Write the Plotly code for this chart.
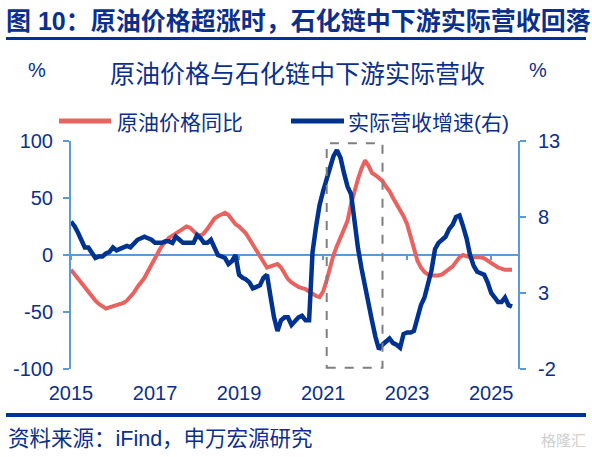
import pandas as pd
import plotly.graph_objects as go

# monthly, Jan 2015 - Jul 2025
months = pd.date_range("2015-01-01", periods=127, freq="MS")

# 原油价格同比 (%), left axis
oil_yoy = [
    -13, -17, -21, -25, -29, -33, -37, -40, -43, -45, -47, -46,
    -45, -44, -43, -42, -40, -37, -33, -28, -24, -20, -14, -8,
    -2, 3, 8, 12, 15, 17, 19, 21, 23, 25, 24, 21,
    18, 17, 19, 23, 28, 32, 34, 36, 37, 35, 31, 27,
    25, 22, 19, 14, 9, 4, 0, -6, -11, -10, -9, -8,
    -11, -16, -21, -24, -26, -28, -29, -30, -32, -34, -36, -37,
    -32, -22, -10, 0, 8, 15, 22, 30, 45, 57, 67, 76,
    83, 78, 72, 70, 68, 65, 60, 56, 50, 45, 40, 34,
    27, 17, 6, -5, -11, -15, -17, -18, -18, -18, -17, -15,
    -12, -10, -6, -2, 0, -1, -2, -2, -2, -2, -3, -5,
    -7, -9, -11, -12, -13, -13, -13,
]

# 实际营收增速 (%), right axis
rev_growth = [
    7.7, 7.4, 7.0, 6.5, 6.0, 6.0, 5.6, 5.3, 5.4, 5.4, 5.6, 5.7,
    6.0, 5.8, 5.9, 6.0, 6.1, 6.0, 6.2, 6.5, 6.6, 6.7, 6.6, 6.5,
    6.3, 6.3, 6.3, 6.4, 6.4, 6.3, 6.7, 6.5, 6.3, 6.3, 6.3, 6.3,
    6.8, 6.6, 6.3, 6.3, 6.5, 6.0, 5.5, 5.4, 5.3, 4.9, 5.1, 5.5,
    4.2, 4.0, 3.9, 3.7, 3.3, 3.4, 3.5, 4.0, 4.2, 2.8, 1.4, 0.5,
    1.2, 1.4, 1.4, 0.9, 1.2, 1.4, 1.5, 1.2, 1.2, 5.7, 7.4, 8.8,
    9.7, 10.5, 11.4, 12.0, 12.4, 11.9, 10.9, 10.0, 9.5, 7.4, 5.9, 4.6,
    3.3, 2.1, 1.2, 0.1, -0.7, -0.4, -0.2, 0.0, -0.3, -0.4, -0.6, 0.3,
    0.4, 0.4, 0.5, 1.4, 2.2, 2.7, 3.5, 4.5, 5.9, 6.3, 6.5, 6.7,
    7.2, 7.5, 8.0, 8.1, 7.4, 6.6, 5.5, 4.8, 4.4, 4.3, 4.2, 3.7,
    3.0, 2.7, 2.4, 2.4, 2.7, 2.2, 2.1,
]

year_ticks = ["2015-01-01", "2017-01-01", "2019-01-01", "2021-01-01", "2023-01-01", "2025-01-01"]
year_labels = ["2015", "2017", "2019", "2021", "2023", "2025"]
left_ticks = [-100, -50, 0, 50, 100]
right_ticks = [-2, 3, 8, 13]

# highlighted period
box_start, box_end = "2021-02-01", "2022-06-01"

NAVY = "#0b2f8c"
RED = "#e8625f"
BLUE = "#00338f"
AXIS = "#5b9bd5"
FONT = "Liberation Sans, Noto Sans CJK SC, sans-serif"

W, H = 592, 457
L, R, T, B = 71, 74, 141, 88
pw, ph = W - L - R, H - T - B


def px(x):
    return (x - L) / pw


def py(y):
    return (H - B - y) / ph


fig = go.Figure()
fig.add_trace(go.Scatter(x=months, y=oil_yoy, mode="lines", name="原油价格同比",
                         line=dict(color=RED, width=4), showlegend=False))
fig.add_trace(go.Scatter(x=months, y=rev_growth, mode="lines", name="实际营收增速(右)",
                         line=dict(color=BLUE, width=4.5), yaxis="y2", showlegend=False))
# carrier for the zero-line axis
fig.add_trace(go.Scatter(x=months, y=oil_yoy, mode="lines", xaxis="x2", opacity=0,
                         hoverinfo="skip", showlegend=False))

tick_font = dict(family=FONT, size=20, color=NAVY)

fig.update_layout(
    width=W, height=H,
    margin=dict(l=L, r=R, t=T, b=B),
    paper_bgcolor="white", plot_bgcolor="white",
    font=dict(family=FONT, color=NAVY),
    title=dict(text="<b>图 10：原油价格超涨时，石化链中下游实际营收回落</b>",
               font=dict(family=FONT, size=25, color=NAVY),
               xref="container", yref="container", x=6 / W, y=1 - 21 / H,
               xanchor="left", yanchor="middle"),
    xaxis=dict(range=["2015-01-01", "2025-08-22"], tickvals=year_ticks, ticktext=year_labels,
               showline=False, showgrid=False, zeroline=False, ticks="",
               tickfont=tick_font, ticklabelstandoff=10),
    xaxis2=dict(matches="x", overlaying="x", anchor="free", position=0.5, side="bottom",
                showline=True, linecolor=AXIS, linewidth=2, ticks="outside", ticklen=4,
                tickwidth=2, tickcolor=AXIS, tickvals=year_ticks, showticklabels=False,
                showgrid=False, zeroline=False, layer="below traces"),
    yaxis=dict(range=[-100, 100], tickvals=left_ticks, ticktext=[str(v) for v in left_ticks],
               showline=True, linecolor=AXIS, linewidth=2, ticks="outside", ticklen=6,
               tickwidth=2, tickcolor=AXIS, showgrid=False, zeroline=False,
               tickfont=tick_font, ticklabelstandoff=6),
    yaxis2=dict(range=[-2, 13], tickvals=right_ticks, ticktext=[str(v) for v in right_ticks],
                overlaying="y", side="right",
                showline=True, linecolor=AXIS, linewidth=2, ticks="outside", ticklen=6,
                tickwidth=2, tickcolor=AXIS, showgrid=False, zeroline=False,
                tickfont=tick_font, ticklabelstandoff=8),
)

# highlighted box
fig.add_shape(type="rect", xref="x", yref="y", x0=box_start, x1=box_end, y0=-99, y1=98,
              line=dict(color="#7f7f7f", width=2, dash="dash"))

# heading underline and footer rule
fig.add_shape(type="line", xref="paper", yref="paper", x0=px(6), x1=px(586), y0=py(38.5), y1=py(38.5),
              line=dict(color="#003399", width=3))
fig.add_shape(type="line", xref="paper", yref="paper", x0=px(6), x1=px(586), y0=py(415), y1=py(415),
              line=dict(color="#003399", width=4))

# legend
fig.add_shape(type="line", xref="paper", yref="paper", x0=px(59), x1=px(111), y0=py(121), y1=py(121),
              line=dict(color=RED, width=5))
fig.add_shape(type="line", xref="paper", yref="paper", x0=px(291), x1=px(344), y0=py(121), y1=py(121),
              line=dict(color=BLUE, width=5))

notes = [
    ("原油价格与石化链中下游实际营收", 297, 74, "center", 25),
    ("%", 37, 70, "center", 20),
    ("%", 538, 70, "center", 20),
    ("原油价格同比", 115, 122, "left", 21),
    ("实际营收增速(右)", 346, 122, "left", 21),
    ("资料来源：iFind，申万宏源研究", 6, 439, "left", 21.5),
]
for text, x, y, anchor, size in notes:
    fig.add_annotation(text=text, xref="paper", yref="paper", x=px(x), y=py(y),
                       xanchor=anchor, yanchor="middle", showarrow=False,
                       font=dict(family=FONT, size=size, color=NAVY))

fig.add_annotation(text="格隆汇", xref="paper", yref="paper", x=px(588), y=py(440),
                   xanchor="right", yanchor="middle", showarrow=False,
                   font=dict(family=FONT, size=15, color="#cfcfcf"))

fig.write_html("out.html", config={"displayModeBar": False},
               post_script="document.body.style.margin='0';")
